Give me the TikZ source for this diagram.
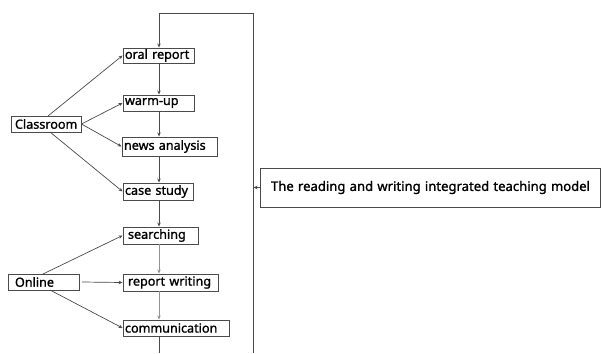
\documentclass[tikz,border=0pt]{standalone}
\usepackage{fontspec}
\setmainfont{Noto Sans}
\newfontfamily\lbl[FakeBold=1.3]{Noto Sans}
\usetikzlibrary{arrows.meta}
\definecolor{ln}{HTML}{4a4a4a}
\begin{document}
\begin{tikzpicture}[x=1pt,y=-1pt,
  box/.style={draw=ln, line width=0.9pt, inner sep=0pt, font=\lbl\fontsize{12.6}{13}\selectfont, anchor=center},
  arr/.style={draw=ln, line width=0.7pt, -{Stealth[length=4pt,width=3.5pt]}},
  plain/.style={draw=ln, line width=0.7pt}]
\useasboundingbox (0,0) rectangle (601,353);
\newcommand{\bx}[7]{\node[box, minimum width=#4, minimum height=#5, text width=#4-4, align=left] (#1) at (#2,#3) {\hspace*{#6pt}#7};}
\bx{oral}{158.5}{55.5}{71}{15}{0}{oral report}
\bx{warm}{158.5}{103}{71}{16}{0}{warm-up}
\bx{news}{169.5}{146.5}{95}{19}{0}{news analysis}
\bx{case}{158}{191.5}{70}{17}{0}{case study}
\bx{search}{160.5}{235.5}{75}{17}{3}{searching}
\bx{report}{170.5}{282.5}{95}{17}{3}{report writing}
\bx{comm}{176}{328}{106}{16}{0}{communication}
\bx{class}{46}{124}{70}{16}{2}{Classroom}
\bx{online}{43.5}{282}{71}{16}{5}{Online}
\bx{model}{430}{187.5}{340}{39}{9}{\fontsize{13.1}{14}\selectfont The reading and writing integrated teaching model}
\coordinate (tr) at (253.5,13);
\coordinate (tl) at (159,13);
\coordinate (br) at (253.5,353);
\coordinate (bot) at (159,353);
\coordinate (c1) at (48,116);
\coordinate (c2) at (50,132);
\coordinate (o1) at (43,274);
\coordinate (o2) at (50,290);
\coordinate (o3) at (82,282);
% main loop
\draw[arr] (br) -- (tr) -- (tl) -- (oral.north -| tl);
\draw[arr] (oral.south -| tl) -- (warm.north -| tl);
\draw[arr] (warm.south -| tl) -- (news.north -| tl);
\draw[arr] (news.south -| tl) -- (case.north -| tl);
\draw[arr] (case.south -| tl) -- (search.north -| tl);
\draw[arr, draw=ln!60] (search.south -| tl) -- (report.north -| tl);
\draw[arr, draw=ln!60] (report.south -| tl) -- (comm.north -| tl);
\draw[plain] (comm.south -| tl) -- (bot);
\draw[arr] (model.west) -- (model.west -| tr);
% classroom
\draw[arr] (c1) -- (oral.west);
\draw[arr] (class.east) -- (warm.west);
\draw[arr] (class.east) -- (news.west);
\draw[arr] (c2) -- (case.west);
% online
\draw[arr] (o1) -- (search.west);
\draw[arr] (o3) -- (report.west);
\draw[arr] (o2) -- (comm.west);
\end{tikzpicture}
\end{document}
